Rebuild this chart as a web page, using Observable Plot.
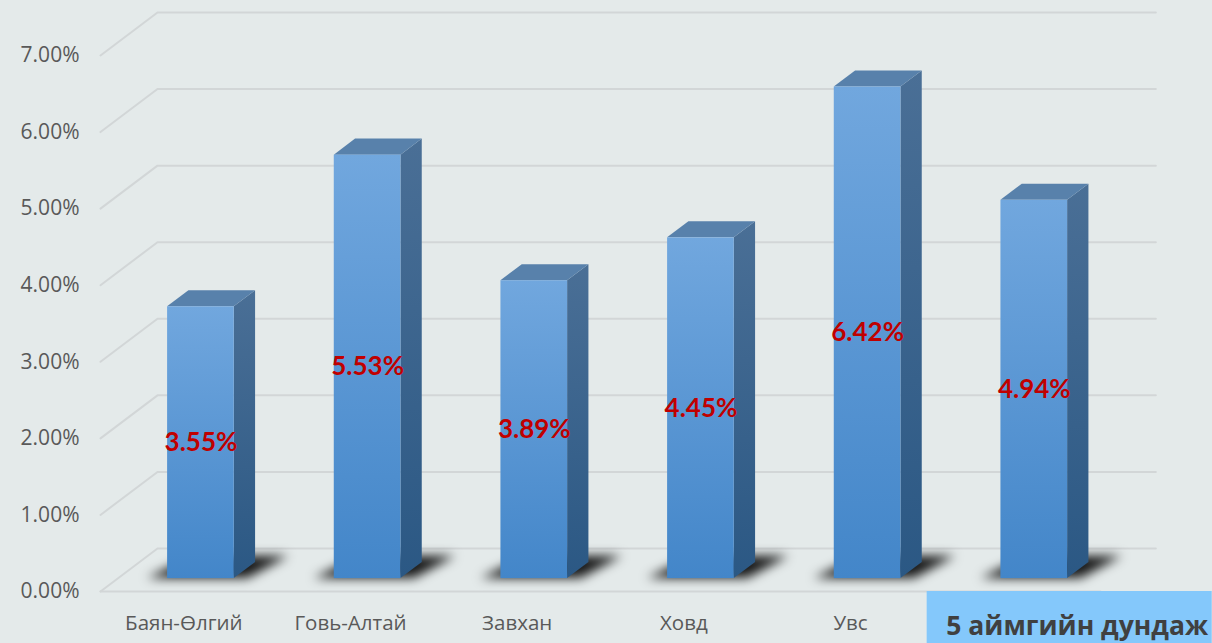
<!DOCTYPE html>
<html><head><meta charset="utf-8">
<script src="https://cdn.jsdelivr.net/npm/d3@7"></script>
<script src="https://cdn.jsdelivr.net/npm/@observablehq/plot@0.6"></script>
<style>
html,body{margin:0;padding:0;background:#e4eaea;}
#chart{width:1212px;height:643px;}
</style></head><body><div id="chart"></div>
<script>
const categories = ["Баян-Өлгий","Говь-Алтай","Завхан","Ховд","Увс","5 аймгийн дундаж"];
const values = [3.55, 5.53, 3.89, 4.45, 6.42, 4.94];
const valueLabels = ["3.55%","5.53%","3.89%","4.45%","6.42%","4.94%"];
const yTicks = [0,1,2,3,4,5,6,7];
const tickLabels = ["0.00%","1.00%","2.00%","3.00%","4.00%","5.00%","6.00%","7.00%"];

// 3D projection: depth offset expressed in scale units
const DX = 0.342, DY = 0.5616;
const F1 = 0.3, F2 = 0.674, HALF = 0.2;

const bars = categories.map((c, i) => ({c, i, v: values[i], label: valueLabels[i], cx: i + 0.5}));
const front = bars.map(b => ({...b, x1: b.cx - HALF + F1*DX, x2: b.cx + HALF + F1*DX, y1: F1*DY, y2: b.v + F1*DY, lx: b.cx + F1*DX, ly: b.v/2 + F1*DY}));
const side = bars.flatMap(b => [F1, F2].map(f => ({c: b.c, x: b.cx + HALF + f*DX, y1: f*DY, y2: b.v + f*DY})));
const topF = bars.flatMap(b => [F1, F2].map(f => ({c: b.c, y: b.v + f*DY, x1: b.cx - HALF + f*DX, x2: b.cx + HALF + f*DX})));
const shadow = bars.flatMap(b => [
  {c: b.c, y: F1*DY, x1: b.cx - 0.32 + F1*DX, x2: b.cx + 0.28 + F1*DX},
  {c: b.c, y: 0.82*DY, x1: b.cx - 0.22 + 0.82*DX, x2: b.cx + 0.35 + 0.82*DX}
]);
const nCat = categories.length;
const grid = yTicks.flatMap(t => [
  {t, x: 0, y: t}, {t, x: DX, y: t + DY}, {t, x: nCat + DX - 0.01, y: t + DY}
]);
const floorFront = [{x: 0, y: 0}, {x: nCat, y: 0}];

const defs = () => {
  const d = d3.create("svg:defs");
  const g1 = d.append("linearGradient").attr("id","gFront").attr("x1",0).attr("y1",0).attr("x2",0).attr("y2",1);
  g1.append("stop").attr("offset","0%").attr("stop-color","#71a7de");
  g1.append("stop").attr("offset","100%").attr("stop-color","#4386c9");
  const g2 = d.append("linearGradient").attr("id","gSide").attr("x1",0).attr("y1",0).attr("x2",0).attr("y2",1);
  g2.append("stop").attr("offset","0%").attr("stop-color","#4a6f96");
  g2.append("stop").attr("offset","100%").attr("stop-color","#2b5884");
  const f = d.append("filter").attr("id","shadowBlur").attr("x","-30%").attr("y","-80%").attr("width","160%").attr("height","260%");
  f.append("feGaussianBlur").attr("stdDeviation", 5.5);
  return d.node();
};

const chart = Plot.plot({
  width: 1212, height: 643,
  marginLeft: 100, marginRight: 112, marginTop: 55, marginBottom: 52,
  x: {domain: [0, nCat], axis: null},
  y: {domain: [0, 7], axis: null},
  style: {background: "#e4eaea", fontFamily: "'Open Sans', sans-serif", color: "#595959", overflow: "visible"},
  marks: [
    defs,
    Plot.line(grid, {x: "x", y: "y", z: "t", stroke: "#d2d6d7", strokeWidth: 2}),
    Plot.line(floorFront, {x: "x", y: "y", stroke: "#d2d6d7", strokeWidth: 2}),
    Plot.areaX(shadow, {y: "y", x1: "x1", x2: "x2", z: "c", fill: "#000", fillOpacity: 0.9, curve: "linear"}),
    Plot.areaY(side, {x: "x", y1: "y1", y2: "y2", z: "c", fill: "url(#gSide)", curve: "linear"}),
    Plot.areaX(topF, {y: "y", x1: "x1", x2: "x2", z: "c", fill: "#5881ab", curve: "linear"}),
    Plot.rect(front, {x1: "x1", x2: "x2", y1: "y1", y2: "y2", fill: "url(#gFront)"}),
    Plot.text(front, {x: "lx", y: "ly", text: "label", fill: "#c00000", fontWeight: "bold", fontSize: 26, fontFamily: "Lato, 'Open Sans', sans-serif"}),
    Plot.text(yTicks, {x: 0, y: d => d, text: (d, i) => tickLabels[i], textAnchor: "end", dx: -21, fontSize: 21, fill: "#595959"}),
    Plot.rect([0], {x1: 4.96, x2: nCat + 0.67, y1: 0, y2: -0.68, fill: "#84c8fb"}),
    Plot.text(bars.slice(0, 5), {x: "cx", y: 0, text: "c", dy: 32, fontSize: 20.5, fill: "#595959"}),
    Plot.text(bars.slice(5), {x: "cx", y: 0, text: "c", dy: 35, dx: 60, fontSize: 26.5, fontWeight: "bold", fill: "#404040"})
  ]
});
// first area group is the floor shadow: blur it
d3.select(chart).select('g[aria-label="area"]').selectAll("path").attr("filter", "url(#shadowBlur)");
document.getElementById("chart").appendChild(chart);
</script></body></html>
